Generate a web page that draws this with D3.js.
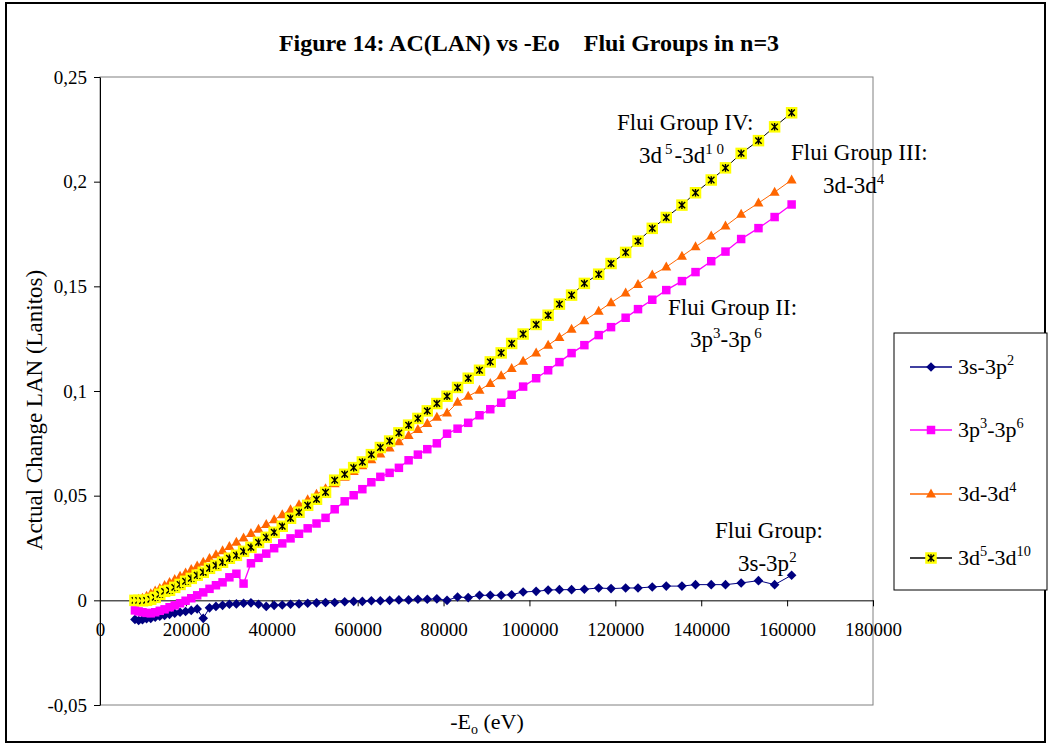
<!DOCTYPE html>
<html>
<head>
<meta charset="utf-8">
<script src="https://cdn.jsdelivr.net/npm/d3@7"></script>
<style>
    body { margin: 0; background: #fff; }
    svg text { font-family: "Liberation Serif", "Times New Roman", serif; fill: #000; }
</style>
</head>
<body>
<svg id="chart" width="1049" height="745"></svg>
<script>
/* Data: -Eo (eV) and actual change LAN per Flui group */
const eoValues = [
    8140, 9000, 9890, 10840, 11820, 12850, 13920, 15040, 16200, 17400,
    18640, 19930, 21250, 22630, 24040, 25500, 27000, 28540, 30130, 31760,
    33430, 35150, 36910, 38710, 40550, 42440, 44370, 46340, 48360, 50420,
    52520, 54650, 56980, 59070, 61090, 63190, 65280, 67440, 69600, 71860,
    74020, 76210, 78440, 80810, 83260, 85740, 88370, 90880, 93420, 95860,
    98530, 101560, 104350, 106980, 109810, 112790, 116120, 119000, 122400, 125280,
    128600, 131860, 135510, 138670, 142330, 145650, 149300, 153330, 157090, 161050
];

const group3s3p2 = [
    -0.0091, -0.0096, -0.0093, -0.0088, -0.0086, -0.0081, -0.0076, -0.0072, -0.0067, -0.0062,
    -0.0057, -0.0053, -0.0048, -0.0041, -0.0086, -0.0036, -0.0029, -0.0024, -0.0019, -0.0017,
    -0.0014, -0.0012, -0.0019, -0.0029, -0.0024, -0.0022, -0.0019, -0.0017, -0.0014, -0.0012,
    -0.0010, -0.0010, -0.0007, -0.0005, -0.0005, -0.0002, -0.0002, 0.0000, 0.0002, 0.0002,
    0.0005, 0.0005, 0.0007, 0.0000, 0.0016, 0.0013, 0.0024, 0.0024, 0.0024, 0.0027,
    0.0040, 0.0043, 0.0049, 0.0051, 0.0051, 0.0053, 0.0059, 0.0056, 0.0059, 0.0059,
    0.0064, 0.0068, 0.0068, 0.0075, 0.0075, 0.0075, 0.0083, 0.0094, 0.0075, 0.0120
];

const group3p3p6 = [
    -0.0048, -0.0053, -0.0057, -0.0060, -0.0062, -0.0057, -0.0050, -0.0043, -0.0033, -0.0024,
    -0.0014, -0.0002, 0.0010, 0.0024, 0.0038, 0.0055, 0.0072, 0.0086, 0.0110, 0.0127,
    0.0080, 0.0177, 0.0203, 0.0223, 0.0249, 0.0272, 0.0296, 0.0318, 0.0344, 0.0367,
    0.0394, 0.0435, 0.0473, 0.0502, 0.0531, 0.0564, 0.0590, 0.0609, 0.0633, 0.0669,
    0.0696, 0.0722, 0.0750, 0.0796, 0.0820, 0.0848, 0.0884, 0.0913, 0.0944, 0.0982,
    0.1021, 0.1061, 0.1099, 0.1138, 0.1181, 0.1219, 0.1267, 0.1305, 0.1350, 0.1391,
    0.1436, 0.1482, 0.1525, 0.1568, 0.1620, 0.1666, 0.1726, 0.1778, 0.1831, 0.1891
];

const group3d3d4 = [
    0.0000, 0.0005, 0.0010, 0.0019, 0.0031, 0.0044, 0.0057, 0.0071, 0.0085, 0.0100,
    0.0115, 0.0131, 0.0147, 0.0164, 0.0182, 0.0200, 0.0218, 0.0237, 0.0257, 0.0277,
    0.0298, 0.0319, 0.0340, 0.0362, 0.0385, 0.0409, 0.0433, 0.0457, 0.0481, 0.0507,
    0.0533, 0.0557, 0.0588, 0.0616, 0.0643, 0.0671, 0.0699, 0.0728, 0.0757, 0.0787,
    0.0816, 0.0845, 0.0875, 0.0895, 0.0946, 0.0975, 0.1004, 0.1036, 0.1073, 0.1107,
    0.1142, 0.1182, 0.1219, 0.1256, 0.1295, 0.1336, 0.1381, 0.1422, 0.1468, 0.1509,
    0.1554, 0.1592, 0.1644, 0.1689, 0.1740, 0.1788, 0.1844, 0.1898, 0.1950, 0.2008
];

const group3d5d10 = [
    0.0000, 0.0000, -0.0002, 0.0000, 0.0005, 0.0014, 0.0029, 0.0043, 0.0048, 0.0062,
    0.0076, 0.0091, 0.0105, 0.0120, 0.0134, 0.0153, 0.0167, 0.0182, 0.0201, 0.0215,
    0.0234, 0.0253, 0.0277, 0.0301, 0.0325, 0.0354, 0.0392, 0.0421, 0.0454, 0.0483,
    0.0516, 0.0574, 0.0602, 0.0634, 0.0661, 0.0696, 0.0730, 0.0761, 0.0800, 0.0837,
    0.0869, 0.0905, 0.0940, 0.0975, 0.1017, 0.1061, 0.1099, 0.1139, 0.1182, 0.1227,
    0.1272, 0.1318, 0.1362, 0.1415, 0.1458, 0.1514, 0.1558, 0.1609, 0.1662, 0.1716,
    0.1777, 0.1829, 0.1888, 0.1947, 0.2008, 0.2066, 0.2135, 0.2196, 0.2262, 0.2329
];

const xTicks = [0, 20000, 40000, 60000, 80000, 100000, 120000, 140000, 160000, 180000];
const yTicks = [-0.05, 0, 0.05, 0.1, 0.15, 0.2, 0.25];

const seriesNames = [
    [['3s-3p', false], ['2', true]],
    [['3p', false], ['3', true], ['-3p', false], ['6', true]],
    [['3d-3d', false], ['4', true]],
    [['3d', false], ['5', true], ['-3d', false], ['10', true]]
];

/* Layout */
const plot = { left: 100, right: 873, top: 77, bottom: 705 };
const svg = d3.select('#chart');

const x = d3.scaleLinear().domain([0, 180000]).range([plot.left, plot.right]);
const y = d3.scaleLinear().domain([-0.05, 0.25]).range([plot.bottom, plot.top]);

const commaFormat = v => String(+v.toFixed(2)).replace('.', ',');

// outer frame
svg.append('rect')
    .attr('x', 6).attr('y', 3)
    .attr('width', 1039).attr('height', 739)
    .attr('fill', '#fff')
    .attr('stroke', '#000')
    .attr('stroke-width', 2);

// plot area frame
svg.append('rect')
    .attr('x', plot.left).attr('y', plot.top)
    .attr('width', plot.right - plot.left)
    .attr('height', plot.bottom - plot.top)
    .attr('fill', 'none')
    .attr('stroke', '#808080')
    .attr('stroke-width', 1);

/* Axes */
const yAxis = svg.append('g')
    .attr('transform', `translate(${plot.left},0)`)
    .call(d3.axisLeft(y).tickValues(yTicks).tickSize(6).tickSizeOuter(0)
        .tickPadding(7).tickFormat(commaFormat));

const xAxis = svg.append('g')
    .attr('transform', `translate(0,${y(0)})`)
    .call(d3.axisBottom(x).tickValues(xTicks).tickSize(6).tickSizeOuter(0)
        .tickPadding(16).tickFormat(d3.format('d')));

[yAxis, xAxis].forEach(g => {
    g.selectAll('text')
        .style('font-family', '"Liberation Serif", "Times New Roman", serif')
        .style('font-size', '19px');
    g.selectAll('line, path').attr('stroke', '#000');
});

/* Titles */
svg.append('text')
    .attr('x', 529).attr('y', 51)
    .attr('text-anchor', 'middle')
    .style('font-size', '24px')
    .style('font-weight', 'bold')
    .style('white-space', 'pre')
    .text('Figure 14: AC(LAN) vs -Eo    Flui Groups in n=3');

svg.append('text')
    .attr('transform', 'translate(42,410) rotate(-90)')
    .attr('text-anchor', 'middle')
    .style('font-size', '23px')
    .text('Actual Change LAN (Lanitos)');

const xTitle = svg.append('text')
    .attr('x', 487).attr('y', 729)
    .attr('text-anchor', 'middle')
    .style('font-size', '22px');
xTitle.append('tspan').text('-E');
xTitle.append('tspan').attr('dy', 5).style('font-size', '14px').text('o');
xTitle.append('tspan').attr('dy', -5).text(' (eV)');

/* Markers */
function diamondPath(r) {
    return `M0,${-r}L${r},0L0,${r}L${-r},0Z`;
}
function squarePath(s) {
    return `M${-s / 2},${-s / 2}h${s}v${s}h${-s}Z`;
}
function trianglePath() {
    return 'M0,-5.5L5,3.5L-5,3.5Z';
}
const starPath = 'M-3.2,-3.2L3.2,3.2M3.2,-3.2L-3.2,3.2M0,-3.8L0,3.8';

const series = [
    { values: group3s3p2, line: '#000080', width: 1, draw: g => g.append('path').attr('d', diamondPath(4.8)).attr('fill', '#000080') },
    { values: group3p3p6, line: '#FF00FF', width: 1.3, draw: g => g.append('path').attr('d', squarePath(8.5)).attr('fill', '#FF00FF') },
    { values: group3d3d4, line: '#FF6600', width: 1, draw: g => g.append('path').attr('d', trianglePath()).attr('fill', '#FF6600') },
    { values: group3d5d10, line: '#000000', width: 1, draw: g => {
        g.append('path').attr('d', squarePath(11.5)).attr('fill', '#FFFF00');
        g.append('path').attr('d', starPath).attr('stroke', '#000').attr('stroke-width', 1.4).attr('fill', 'none');
    } }
];

const line = d3.line().x(d => x(d.x)).y(d => y(d.y));

series.forEach(s => {
    const pts = eoValues.map((e, i) => ({ x: e, y: s.values[i] }));
    const g = svg.append('g');
    g.append('path')
        .datum(pts)
        .attr('d', line)
        .attr('fill', 'none')
        .attr('stroke', s.line)
        .attr('stroke-width', s.width);
    g.selectAll('g.mark')
        .data(pts)
        .join('g')
        .attr('class', 'mark')
        .attr('transform', d => `translate(${x(d.x)},${y(d.y)})`)
        .each(function() { s.draw(d3.select(this)); });
});

/* Rich text helper (superscripts) */
function richText(parent, px, py, parts, size, anchor) {
    const t = parent.append('text')
        .attr('x', px).attr('y', py)
        .attr('text-anchor', anchor || 'start')
        .style('font-size', size + 'px');
    let raised = false;
    parts.forEach(([str, sup, gap]) => {
        const ts = t.append('tspan').text(str);
        if (sup && !raised) { ts.attr('dy', -size * 0.4); raised = true; }
        else if (!sup && raised) { ts.attr('dy', size * 0.4); raised = false; }
        if (sup) ts.style('font-size', (size * 0.65) + 'px');
        if (gap) ts.attr('dx', gap);
    });
    return t;
}

/* Annotations */
svg.append('text').attr('x', 617).attr('y', 130).style('font-size', '23px').text('Flui Group IV:');
richText(svg, 639, 163, [['3d', false], ['5', true, 3], ['-3d', false, 2], ['1', true], ['0', true, 4]], 23);

svg.append('text').attr('x', 791).attr('y', 160).style('font-size', '23px').text('Flui Group III:');
richText(svg, 823, 193, [['3d-3d', false], ['4', true]], 23);

svg.append('text').attr('x', 668).attr('y', 315).style('font-size', '23px').text('Flui Group II:');
richText(svg, 690, 347, [['3p', false], ['3', true], ['-3p', false], ['6', true, 3]], 23);

svg.append('text').attr('x', 715).attr('y', 538).style('font-size', '23px').text('Flui Group:');
richText(svg, 738, 571, [['3s-3p', false], ['2', true]], 23);

/* Legend */
const legend = svg.append('g');
legend.append('rect')
    .attr('x', 894).attr('y', 333)
    .attr('width', 153).attr('height', 257)
    .attr('fill', '#fff')
    .attr('stroke', '#000')
    .attr('stroke-width', 1);

const legendY = [367, 430, 494, 558];
series.forEach((s, i) => {
    const row = legend.append('g').attr('transform', `translate(0,${legendY[i]})`);
    row.append('line')
        .attr('x1', 910).attr('x2', 952)
        .attr('stroke', s.line).attr('stroke-width', 1.3);
    const m = row.append('g').attr('transform', 'translate(931,0)');
    s.draw(m);
    richText(row, 958, 7, seriesNames[i], 22);
});
</script>
</body>
</html>
